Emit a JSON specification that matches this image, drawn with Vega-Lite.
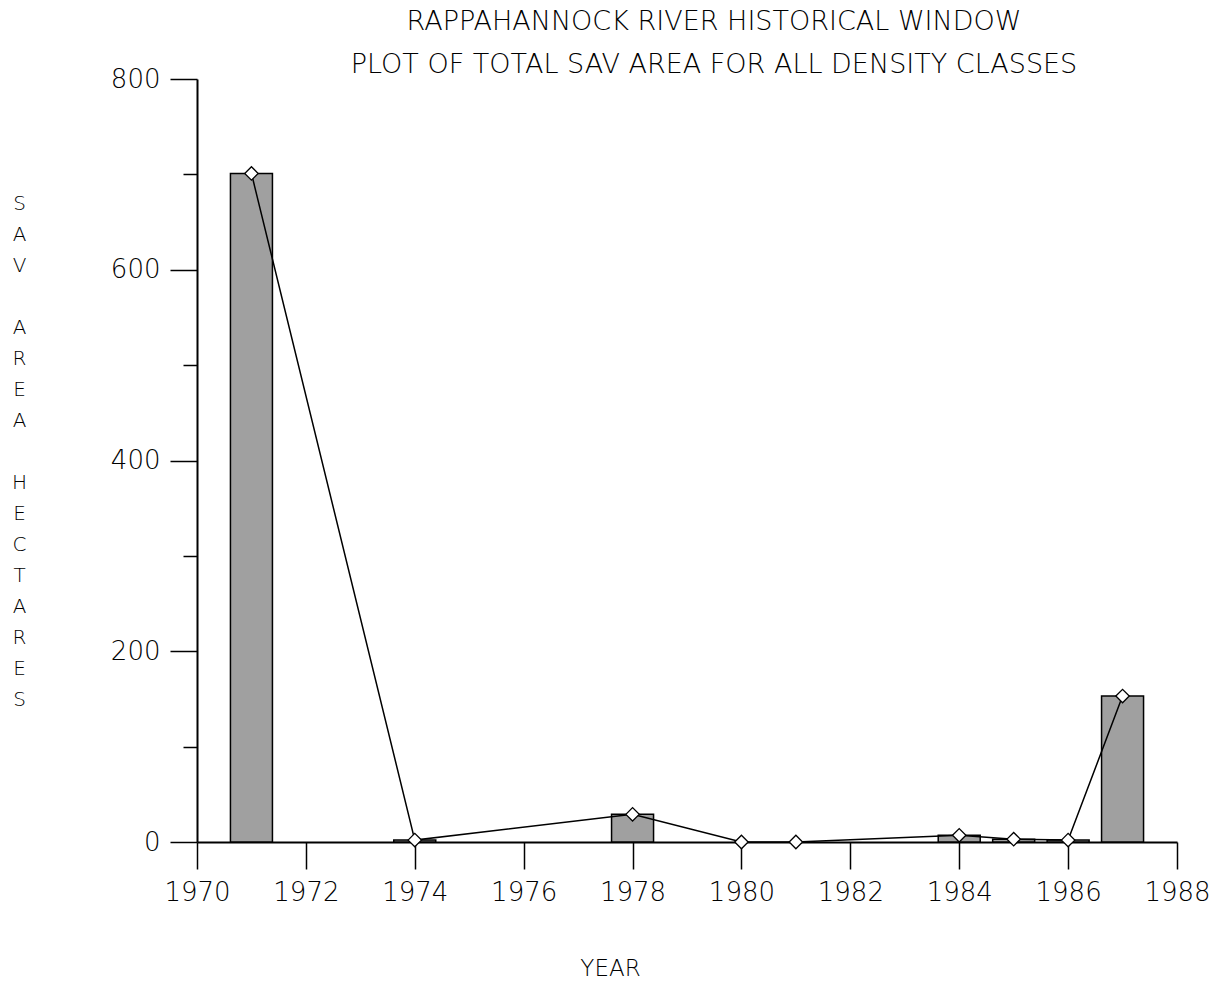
{
  "$schema": "https://vega.github.io/schema/vega-lite/v6.json",
  "width": 980,
  "height": 763,
  "autosize": "none",
  "padding": {"left": 197, "top": 79, "right": 40, "bottom": 141},
  "background": "white",
  "config": {"view": {"stroke": null}, "font": "DejaVu Sans"},
  "title": {
    "text": ["RAPPAHANNOCK RIVER HISTORICAL WINDOW", "PLOT OF TOTAL SAV AREA FOR ALL DENSITY CLASSES"],
    "font": "DejaVu Sans",
    "fontSize": 27,
    "fontWeight": 200,
    "color": "black",
    "lineHeight": 43,
    "anchor": "middle",
    "dx": 27,
    "offset": -13
  },
  "data": {
    "values": [
      {"year": 1971, "area": 701},
      {"year": 1974, "area": 2},
      {"year": 1978, "area": 29},
      {"year": 1980, "area": 0},
      {"year": 1981, "area": 0},
      {"year": 1984, "area": 7},
      {"year": 1985, "area": 3},
      {"year": 1986, "area": 2},
      {"year": 1987, "area": 153}
    ]
  },
  "encoding": {
    "x": {
      "field": "year",
      "type": "quantitative",
      "scale": {"domain": [1970, 1988], "nice": false, "zero": false, "padding": 0},
      "axis": {
        "values": [1970, 1972, 1974, 1976, 1978, 1980, 1982, 1984, 1986, 1988],
        "format": "d",
        "grid": false,
        "labelFlush": false,
        "labelOverlap": false,
        "domainColor": "black",
        "domainWidth": 2,
        "tickColor": "black",
        "tickWidth": 1.5,
        "tickSize": 27,
        "labelPadding": 10,
        "labelFont": "DejaVu Sans",
        "labelFontWeight": 200,
        "labelFontSize": 26,
        "labelColor": "black",
        "title": "YEAR",
        "titleFont": "DejaVu Sans",
        "titleFontWeight": 200,
        "titleFontSize": 23,
        "titleColor": "black",
        "titleX": 413,
        "titleY": 126,
        "titleBaseline": "middle",
        "titleAlign": "center"
      }
    },
    "y": {
      "field": "area",
      "type": "quantitative",
      "scale": {"domain": [0, 800], "nice": false, "padding": 0},
      "axis": {
        "values": [0, 100, 200, 300, 400, 500, 600, 700, 800],
        "labelExpr": "datum.value % 200 === 0 ? datum.label : ''",
        "grid": false,
        "labelFlush": false,
        "domainColor": "black",
        "domainWidth": 2,
        "tickColor": "black",
        "tickWidth": 1.5,
        "tickSize": {"condition": {"test": "datum.value % 200 === 0", "value": 27}, "value": 14},
        "labelPadding": 10,
        "labelFont": "DejaVu Sans",
        "labelFontWeight": 200,
        "labelFontSize": 26,
        "labelColor": "black",
        "title": ["S", "A", "V", "\u2800", "A", "R", "E", "A", "\u2800", "H", "E", "C", "T", "A", "R", "E", "S"],
        "titleFont": "DejaVu Sans",
        "titleFontWeight": 200,
        "titleFontSize": 20,
        "titleColor": "black",
        "titleAngle": 0,
        "titleLineHeight": 31,
        "titleAlign": "center",
        "titleBaseline": "middle",
        "titleX": -178,
        "titleY": 124
      }
    }
  },
  "layer": [
    {
      "transform": [{"filter": "datum.area > 0"}],
      "mark": {"type": "bar", "width": 42, "fill": "#a0a0a0", "stroke": "black", "strokeWidth": 1.5}
    },
    {
      "mark": {"type": "line", "color": "black", "strokeWidth": 1.5}
    },
    {
      "mark": {"type": "point", "shape": "diamond", "size": 180, "filled": true, "fill": "white", "stroke": "black", "strokeWidth": 1.3, "opacity": 1}
    }
  ]
}
